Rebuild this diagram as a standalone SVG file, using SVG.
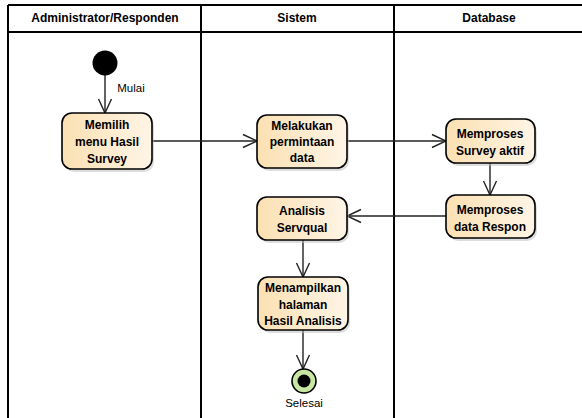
<svg xmlns="http://www.w3.org/2000/svg" width="582" height="418" viewBox="0 0 582 418">
  <style>
    .lane { fill: none; stroke: #000; stroke-width: 2; }
    .head { font-family: "Liberation Sans", Arial, sans-serif; font-size: 12px; font-weight: bold; fill: #000; text-anchor: middle; }
    .act rect.box { fill: url(#actFill); stroke: #000; stroke-width: 1.6; }
    .act rect.shadow { fill: #bbb; opacity: 0.5; }
    .lbl { font-family: "Liberation Sans", Arial, sans-serif; font-size: 12px; font-weight: bold; fill: #000; text-anchor: middle; }
    .note { font-family: "Liberation Sans", Arial, sans-serif; font-size: 11.5px; fill: #000; text-anchor: middle; }
    .flow { fill: none; stroke: #222; stroke-width: 1.4; marker-end: url(#open); }
  </style>
  <defs>
    <linearGradient id="actFill" x1="0" y1="0" x2="1" y2="0">
      <stop offset="0" stop-color="#fbe0b2"/>
      <stop offset="1" stop-color="#fff5e6"/>
    </linearGradient>
    <marker id="open" viewBox="0 0 16 16" refX="15" refY="8" markerWidth="16" markerHeight="16" markerUnits="userSpaceOnUse" orient="auto">
      <path d="M1,1.5 L15,8 L1,14.5" fill="none" stroke="#222" stroke-width="1.4"/>
    </marker>
  </defs>

  <!-- swimlane frame -->
  <g id="lanes">
    <line class="lane" x1="8" y1="5" x2="582" y2="5"/>
    <line class="lane" x1="8" y1="32" x2="582" y2="32"/>
    <line class="lane" x1="8" y1="5" x2="8" y2="418"/>
    <line class="lane" x1="201" y1="5" x2="201" y2="418"/>
    <line class="lane" x1="394" y1="5" x2="394" y2="418"/>
    <text class="head" x="105" y="22">Administrator/Responden</text>
    <text class="head" x="297" y="22">Sistem</text>
    <text class="head" x="489" y="22">Database</text>
  </g>

  <!-- control flows -->
  <g id="connectors">
    <line class="flow" x1="105" y1="75" x2="105" y2="113"/>
    <line class="flow" x1="152" y1="141" x2="257" y2="141"/>
    <line class="flow" x1="347" y1="141" x2="446" y2="141"/>
    <line class="flow" x1="490" y1="163" x2="490" y2="195"/>
    <line class="flow" x1="446" y1="216" x2="347" y2="216"/>
    <line class="flow" x1="303" y1="240" x2="303" y2="277"/>
    <line class="flow" x1="303" y1="330" x2="303" y2="369"/>
  </g>

  <g id="start">
    <circle cx="105" cy="63" r="12.5" fill="#000"/>
    <text class="note" x="131" y="92">Mulai</text>
  </g>

  <g id="pilihMenu" class="act">
    <rect class="shadow" x="64" y="116" width="90" height="56" rx="10"/>
    <rect class="box" x="62" y="113" width="90" height="56" rx="10"/>
    <text class="lbl" x="107" y="129">Memilih</text>
    <text class="lbl" x="107" y="146">menu Hasil</text>
    <text class="lbl" x="107" y="163">Survey</text>
  </g>

  <g id="permintaanData" class="act">
    <rect class="shadow" x="259" y="118" width="90" height="53" rx="10"/>
    <rect class="box" x="257" y="115" width="90" height="53" rx="10"/>
    <text class="lbl" x="302" y="130">Melakukan</text>
    <text class="lbl" x="302" y="146">permintaan</text>
    <text class="lbl" x="302" y="162">data</text>
  </g>

  <g id="prosesSurvey" class="act">
    <rect class="shadow" x="448" y="122" width="89" height="44" rx="10"/>
    <rect class="box" x="446" y="119" width="89" height="44" rx="10"/>
    <text class="lbl" x="490" y="138">Memproses</text>
    <text class="lbl" x="490" y="155">Survey aktif</text>
  </g>

  <g id="prosesRespon" class="act">
    <rect class="shadow" x="448" y="198" width="89" height="43" rx="10"/>
    <rect class="box" x="446" y="195" width="89" height="43" rx="10"/>
    <text class="lbl" x="490" y="214">Memproses</text>
    <text class="lbl" x="490" y="231">data Respon</text>
  </g>

  <g id="analisis" class="act">
    <rect class="shadow" x="259" y="200" width="90" height="43" rx="10"/>
    <rect class="box" x="257" y="197" width="90" height="43" rx="10"/>
    <text class="lbl" x="302" y="215">Analisis</text>
    <text class="lbl" x="302" y="232">Servqual</text>
  </g>

  <g id="tampilHasil" class="act">
    <rect class="shadow" x="260" y="280" width="90" height="53" rx="10"/>
    <rect class="box" x="258" y="277" width="90" height="53" rx="10"/>
    <text class="lbl" x="303" y="292">Menampilkan</text>
    <text class="lbl" x="303" y="309">halaman</text>
    <text class="lbl" x="303" y="325">Hasil Analisis</text>
  </g>

  <g id="end">
    <circle cx="304" cy="381" r="12" fill="#c9e7a2" stroke="#000" stroke-width="1.6"/>
    <circle cx="304" cy="381" r="6.5" fill="#000"/>
    <text class="note" x="304" y="407">Selesai</text>
  </g>
</svg>
